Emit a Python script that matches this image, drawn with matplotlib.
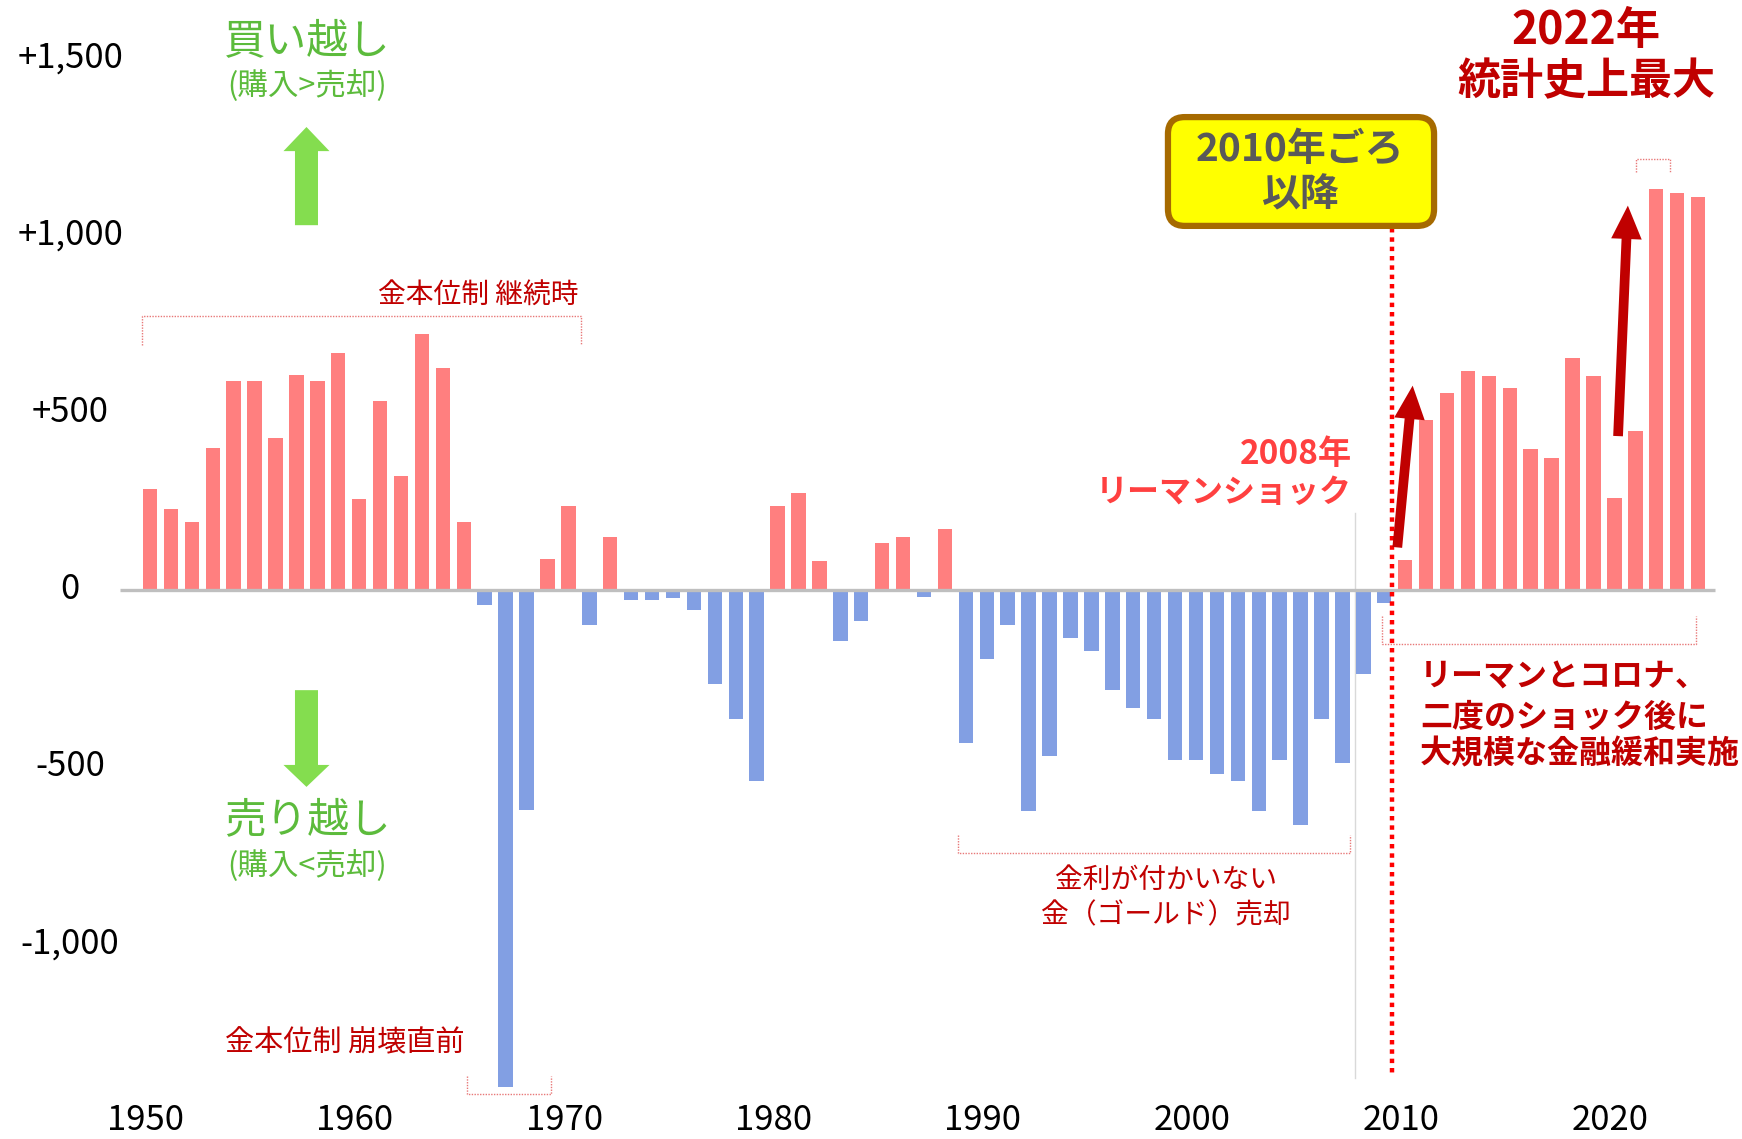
import numpy as np
import matplotlib.pyplot as plt
from matplotlib.patches import FancyBboxPatch

plt.rcParams['font.family'] = ['Noto Sans CJK JP', 'DejaVu Sans']

years = np.arange(1950, 2025)
values = [285, 227, 190, 399, 588, 588, 427, 605, 588, 667,
          255, 532, 320, 721, 625, 190, -44, -1404, -622, 86,
          236, -100, 148, -30, -30, -24, -58, -267, -365, -540,
          236, 272, 80, -145, -89, 131, 148, -21, 171, -433,
          -196, -100, -625, -470, -137, -174, -284, -335, -365, -481,
          -481, -520, -540, -625, -481, -665, -365, -489, -238, -38,
          83, 478, 554, 617, 603, 569, 396, 371, 653, 603,
          258, 447, 1130, 1119, 1108]
yticks = [1500, 1000, 500, 0, -500, -1000]
ytick_labels = ['+1,500', '+1,000', '+500', '0', '-500', '-1,000']
xticks = [1950, 1960, 1970, 1980, 1990, 2000, 2010, 2020]

RED_BAR = '#FF7F7F'
BLUE_BAR = '#829FE3'
DARK_RED = '#C00000'
GREEN = '#5CBB3C'
ARROW_GREEN = '#84DD4F'
BRACKET = '#E87878'

fig = plt.figure(figsize=(17.42, 11.39), dpi=100)
ax = fig.add_axes([0, 0, 1, 1])
ax.set_xlim(1942.83, 2026.10)
ax.set_ylim(-1550.5, 1663.4)
ax.axis('off')

colors = [RED_BAR if v >= 0 else BLUE_BAR for v in values]
ax.bar(years, values, width=0.69, color=colors, zorder=2)
ax.plot([1948.57, 2024.81], [0, 0], color='#BFBFBF', lw=2.4, zorder=3,
        solid_capstyle='butt')

# tick labels
for v, lab in zip(yticks, ytick_labels):
    ax.text(1946.18, v, lab, ha='center', va='center', fontsize=25)
for x in xticks:
    ax.text(x - 0.2, -1497, str(x), ha='center', va='center', fontsize=25)

# buy / sell captions with green arrows
ax.text(1957.5, 1545, '買い越し', ha='center', va='center', fontsize=30, color=GREEN)
ax.text(1957.5, 1421, '(購入>売却)', ha='center', va='center', fontsize=22, color=GREEN)
ax.arrow(1957.48, 1028, 0, 277, width=1.1, head_width=2.2, head_length=68,
         length_includes_head=True, color=ARROW_GREEN, lw=0)
ax.arrow(1957.48, -284, 0, -273, width=1.1, head_width=2.2, head_length=62,
         length_includes_head=True, color=ARROW_GREEN, lw=0)
ax.text(1957.5, -653, '売り越し', ha='center', va='center', fontsize=30, color=GREEN)
ax.text(1957.5, -780, '(購入<売却)', ha='center', va='center', fontsize=22, color=GREEN)


def bracket(x0, x1, y_line, y_end):
    ax.plot([x0, x0, x1, x1], [y_end, y_line, y_line, y_end], color=BRACKET,
            lw=1, ls=(0, (1, 1)), zorder=4)


# gold standard period
bracket(1949.62, 1970.6, 772, 690)
ax.text(1965.68, 831, '金本位制 継続時', ha='center', va='center', fontsize=20, color=DARK_RED)
bracket(1965.15, 1969.17, -1424, -1373)
ax.text(1959.3, -1280, '金本位制 崩壊直前', ha='center', va='center', fontsize=21, color=DARK_RED)

# 1989-2007 selling
bracket(1988.62, 2007.36, -743, -693)
ax.text(1998.57, -820, '金利が付かいない', ha='center', va='center', fontsize=20, color=DARK_RED)
ax.text(1998.57, -918, '金（ゴールド）売却', ha='center', va='center', fontsize=20, color=DARK_RED)

# Lehman shock
ax.plot([2007.6, 2007.6], [216, -1378], color='#D9D9D9', lw=1, zorder=1)
ax.text(2007.46, 380, '2008年', ha='right', va='center', fontsize=24,
        fontweight='bold', color='#FF4040')
ax.text(2007.46, 272, 'リーマンショック', ha='right', va='center', fontsize=23,
        fontweight='bold', color='#FF4040')

# 2010 onward
ax.plot([2009.37, 2009.37], [1020, -1376], color='#FF0000', lw=3.2,
        ls=(0, (1, 1.1)), zorder=5)
px_x = 1742 / (2026.10 - 1942.83)
px_y = 1139 / (1663.4 + 1550.5)
box = FancyBboxPatch((1998.66, 1026), 2011.38 - 1998.66, 1333 - 1026,
                     boxstyle='round,pad=0,rounding_size=0.8',
                     mutation_aspect=px_x / px_y,
                     fc='#FFFF00', ec='#A66A00', lw=4.5, zorder=6)
ax.add_patch(box)
ax.text(2004.97, 1240, '2010年ごろ', ha='center', va='center', fontsize=28,
        fontweight='bold', color='#595959', zorder=7)
ax.text(2004.97, 1113, '以降', ha='center', va='center', fontsize=28,
        fontweight='bold', color='#595959', zorder=7)

bracket(2008.89, 2023.9, -154, -75)
ax.text(2010.71, -247, 'リーマンとコロナ、', ha='left', va='center', fontsize=23,
        fontweight='bold', color=DARK_RED)
ax.text(2010.71, -363, '二度のショック後に', ha='left', va='center', fontsize=23,
        fontweight='bold', color=DARK_RED)
ax.text(2010.71, -464, '大規模な金融緩和実施', ha='left', va='center', fontsize=23,
        fontweight='bold', color=DARK_RED)

ax.annotate('', xy=(2010.37, 583), xytext=(2009.61, 111),
            arrowprops=dict(arrowstyle='simple,head_length=1.2,head_width=1.1,tail_width=0.35',
                            mutation_scale=20, color=DARK_RED, lw=0), zorder=6)
ax.annotate('', xy=(2020.65, 1091), xytext=(2020.17, 425),
            arrowprops=dict(arrowstyle='simple,head_length=1.2,head_width=1.1,tail_width=0.35',
                            mutation_scale=20, color=DARK_RED, lw=0), zorder=6)

# 2022 record
bracket(2021.03, 2022.66, 1215, 1178)
ax.text(2018.64, 1576, '2022年', ha='center', va='center', fontsize=32,
        fontweight='bold', color=DARK_RED)
ax.text(2018.64, 1435, '統計史上最大', ha='center', va='center', fontsize=31,
        fontweight='bold', color=DARK_RED)

fig.savefig('out.png', dpi=100, facecolor='white')
